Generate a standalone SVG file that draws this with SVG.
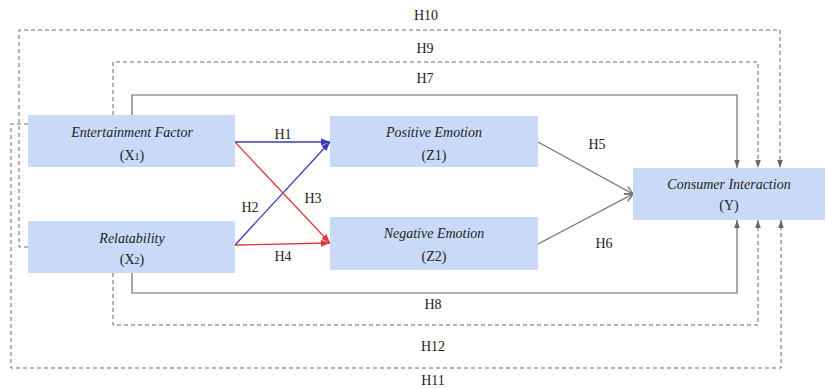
<svg xmlns="http://www.w3.org/2000/svg" width="827" height="389" viewBox="0 0 827 389">
  <style>
    text { font-family: 'Times New Roman', 'Liberation Serif', Tinos, Times, 'Nimbus Roman', 'Noto Serif', 'DejaVu Serif', serif; font-size: 14px; fill: #222; text-anchor: middle; }
    .box { fill: #c9daf8; }
    .title { font-style: italic; }
    .solid { fill: none; stroke: #6b6b6b; stroke-width: 1.2; }
    .dash { fill: none; stroke: #6b6b6b; stroke-width: 1; stroke-dasharray: 4 3; }
    .blue { fill: none; stroke: #3b3bb8; stroke-width: 1.3; }
    .red { fill: none; stroke: #e0383c; stroke-width: 1.3; }
    .grey { fill: none; stroke: #707070; stroke-width: 1.3; }
  </style>
  <defs>
    <marker id="ah-grey" markerUnits="userSpaceOnUse" markerWidth="8" markerHeight="8" viewBox="0 0 8 8" refX="8" refY="4" orient="auto">
      <path d="M0,1.2 L8,4 L0,6.8 z" fill="#666"/>
    </marker>
    <marker id="ah-blue" markerUnits="userSpaceOnUse" markerWidth="9" markerHeight="9" viewBox="0 0 9 9" refX="9" refY="4.5" orient="auto">
      <path d="M0,1 L9,4.5 L0,8 z" fill="#3b3bb8"/>
    </marker>
    <marker id="ah-red" markerUnits="userSpaceOnUse" markerWidth="9" markerHeight="9" viewBox="0 0 9 9" refX="9" refY="4.5" orient="auto">
      <path d="M0,1 L9,4.5 L0,8 z" fill="#e0383c"/>
    </marker>
    <marker id="ah-open" markerUnits="userSpaceOnUse" markerWidth="10" markerHeight="10" viewBox="0 0 10 10" refX="9" refY="5" orient="auto">
      <path d="M1,1 L9,5 L1,9" fill="none" stroke="#707070" stroke-width="1.3"/>
    </marker>
  </defs>

  <!-- connectors -->
  <g id="connectors">
    <!-- H10 / H11: outer dashed loops -->
    <path class="dash" d="M28,247 H19 V30 H780 V168" marker-end="url(#ah-grey)"/>
    <path class="dash" d="M28,124 H11 V368 H781 V220" marker-end="url(#ah-grey)"/>
    <!-- H9 / H12: middle dashed loops -->
    <path class="dash" d="M113,115 V62 H758 V168" marker-end="url(#ah-grey)"/>
    <path class="dash" d="M113,273 V325 H758 V220" marker-end="url(#ah-grey)"/>
    <!-- H7 / H8: direct solid paths -->
    <path class="solid" d="M132,115 V95 H737 V168" marker-end="url(#ah-grey)"/>
    <path class="solid" d="M132,273 V293 H737 V220" marker-end="url(#ah-grey)"/>
    <!-- H1 - H4 -->
    <path class="blue" d="M235,142 L330,142" marker-end="url(#ah-blue)"/>
    <path class="blue" d="M235,245 L330,142" marker-end="url(#ah-blue)"/>
    <path class="red" d="M235,142 L330,243" marker-end="url(#ah-red)"/>
    <path class="red" d="M235,245 L330,243" marker-end="url(#ah-red)"/>
    <!-- H5 / H6 -->
    <path class="grey" d="M538,142 L633,194" marker-end="url(#ah-open)"/>
    <path class="grey" d="M538,244 L633,194" marker-end="url(#ah-open)"/>
  </g>

  <!-- hypothesis labels -->
  <g id="labels">
    <text x="426" y="20">H10</text>
    <text x="425" y="53">H9</text>
    <text x="425" y="83">H7</text>
    <text x="283" y="139">H1</text>
    <text x="250" y="212">H2</text>
    <text x="313" y="203">H3</text>
    <text x="283" y="261">H4</text>
    <text x="597" y="149">H5</text>
    <text x="604" y="248">H6</text>
    <text x="433" y="309">H8</text>
    <text x="433" y="351">H12</text>
    <text x="433" y="385">H11</text>
  </g>

  <!-- nodes -->
  <g id="node-x1">
    <rect class="box" x="28" y="115" width="207" height="52"/>
    <text class="title" x="132" y="137">Entertainment Factor</text>
    <text x="132" y="160">(X<tspan font-size="10">1</tspan>)</text>
  </g>
  <g id="node-x2">
    <rect class="box" x="28" y="221" width="207" height="52"/>
    <text class="title" x="132" y="243">Relatability</text>
    <text x="132" y="264">(X<tspan font-size="10">2</tspan>)</text>
  </g>
  <g id="node-z1">
    <rect class="box" x="330" y="116" width="208" height="51"/>
    <text class="title" x="434" y="137">Positive Emotion</text>
    <text x="434" y="160">(Z1)</text>
  </g>
  <g id="node-z2">
    <rect class="box" x="330" y="217" width="208" height="53"/>
    <text class="title" x="434" y="238">Negative Emotion</text>
    <text x="434" y="261">(Z2)</text>
  </g>
  <g id="node-y">
    <rect class="box" x="633" y="168" width="192" height="52"/>
    <text class="title" x="729" y="189">Consumer Interaction</text>
    <text x="729" y="210">(Y)</text>
  </g>
</svg>
